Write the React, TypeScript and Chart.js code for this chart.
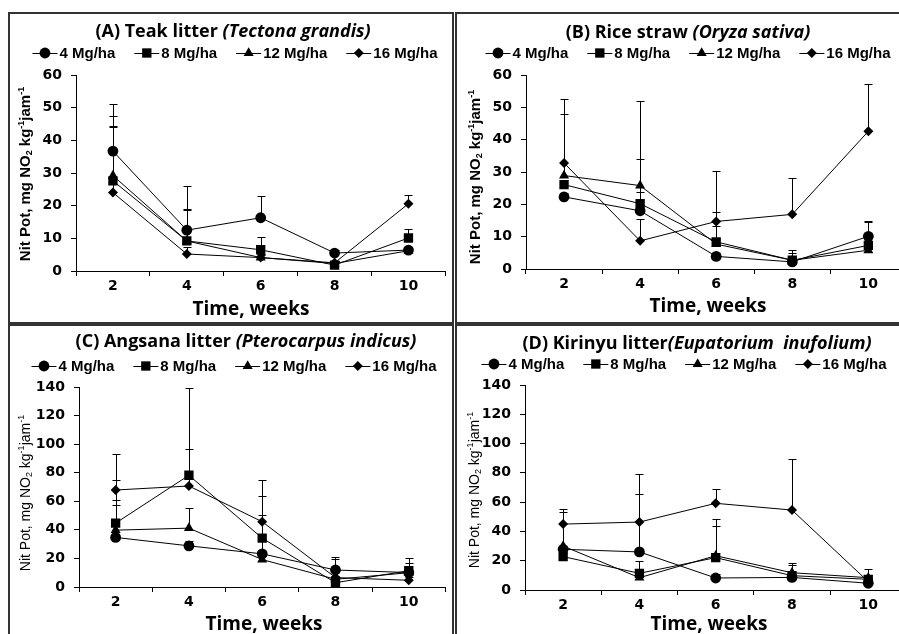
import React, { useEffect, useRef } from 'react';
import { Chart, registerables } from 'chart.js';
Chart.register(...registerables);

// ---------- data ----------
const WEEKS = ['2', '4', '6', '8', '10'];
const RATES = ['4 Mg/ha', '8 Mg/ha', '12 Mg/ha', '16 Mg/ha'];

// (A) Teak litter
const A_4 = [36.7, 12.5, 16.3, 5.5, 6.4];
const A_8 = [27.6, 9.2, 6.5, 1.8, 10.1];
const A_12 = [29.2, 9.2, 4.1, 2.3, 6.2];
const A_16 = [24.0, 5.2, 4.1, 2.5, 20.6];
const A_4_UP = [51.0, 26.0, 23.0, 6.5, 7.0];
const A_8_UP = [44.5, 19.0, 10.4, 3.0, 12.8];
const A_12_UP = [47.5, 18.6, 5.2, 3.0, 7.0];
const A_16_UP = [44.0, 7.3, 5.0, 3.0, 23.2];

// (B) Rice straw
const B_4 = [22.3, 18.0, 3.9, 2.2, 10.1];
const B_8 = [26.1, 20.2, 8.4, 2.7, 7.3];
const B_12 = [28.9, 25.8, 7.7, 2.7, 5.8];
const B_16 = [32.8, 8.7, 14.7, 16.9, 42.6];
const B_4_UP = [23.5, 23.9, 5.0, 4.0, 15.0];
const B_8_UP = [27.5, 34.0, 17.6, 6.0, 14.6];
const B_12_UP = [48.0, 52.0, 13.2, 5.0, 7.0];
const B_16_UP = [52.7, 15.5, 30.4, 28.2, 57.3];

// (C) Angsana litter
const C_4 = [34.7, 28.8, 23.2, 11.9, 10.1];
const C_8 = [44.7, 78.2, 34.2, 3.0, 11.4];
const C_12 = [39.8, 41.2, 19.2, 5.4, 10.0];
const C_16 = [67.9, 70.7, 45.7, 6.6, 4.7];
const C_4_UP = [57.6, 32.0, 50.6, 21.3, 17.0];
const C_8_UP = [74.9, 139.0, 63.7, 8.0, 20.4];
const C_12_UP = [60.9, 55.0, 22.0, 8.0, 12.0];
const C_16_UP = [93.4, 96.7, 75.2, 19.4, 7.0];

// (D) Kirinyu litter
const D_4 = [27.8, 26.0, 8.2, 8.6, 4.6];
const D_8 = [22.8, 11.4, 22.1, 9.8, 7.3];
const D_12 = [30.0, 8.4, 23.4, 11.8, 8.4];
const D_16 = [45.0, 46.4, 59.2, 54.6, 5.7];
const D_4_UP = [30.0, 65.6, 11.0, 10.0, 6.0];
const D_8_UP = [25.0, 20.0, 43.5, 17.0, 10.0];
const D_12_UP = [53.5, 10.0, 48.3, 18.2, 14.6];
const D_16_UP = [55.3, 79.4, 68.7, 89.2, 7.0];

// ---------- styling ----------
const MARKERS = ['circle', 'rect', 'triangle', 'rectRot'];
const RADII = [5.4, 6.6, 5.8, 5];

type Panel = {
  main: string;
  italic: string;
  series: number[][];
  ups: number[][];
  yMax: number;
  yStep: number;
  rect: [number, number, number, number];
  area: [number, number, number, number];
  titleXY: [number, number];
  legendXY: [number, number];
  xTitleXY: [number, number];
  yTitleXY: [number, number];
  yBold: boolean;
};

const PANELS: Panel[] = [
  {
    main: '(A) Teak litter ', italic: '(Tectona grandis)',
    series: [A_4, A_8, A_12, A_16], ups: [A_4_UP, A_8_UP, A_12_UP, A_16_UP],
    yMax: 60, yStep: 10,
    rect: [10, 14, 442, 308], area: [76, 75, 446, 271],
    titleXY: [233, 32], legendXY: [235, 53], xTitleXY: [251, 310], yTitleXY: [26, 174], yBold: true,
  },
  {
    main: '(B) Rice straw ', italic: '(Oryza sativa)',
    series: [B_4, B_8, B_12, B_16], ups: [B_4_UP, B_8_UP, B_12_UP, B_16_UP],
    yMax: 60, yStep: 10,
    rect: [457, 14, 456, 308], area: [526, 75, 908, 269],
    titleXY: [688, 33], legendXY: [688, 53], xTitleXY: [708, 307], yTitleXY: [476, 177], yBold: true,
  },
  {
    main: '(C) Angsana litter ', italic: '(Pterocarpus indicus)',
    series: [C_4, C_8, C_12, C_16], ups: [C_4_UP, C_8_UP, C_12_UP, C_16_UP],
    yMax: 140, yStep: 20,
    rect: [10, 326, 442, 310], area: [79, 387, 448.5, 587],
    titleXY: [246, 342], legendXY: [234, 366], xTitleXY: [264, 625], yTitleXY: [26, 493], yBold: false,
  },
  {
    main: '(D) Kirinyu litter', italic: '(Eupatorium  inufolium)',
    series: [D_4, D_8, D_12, D_16], ups: [D_4_UP, D_8_UP, D_12_UP, D_16_UP],
    yMax: 140, yStep: 20,
    rect: [457, 326, 456, 310], area: [525, 385, 909.5, 590],
    titleXY: [697, 344], legendXY: [684, 364], xTitleXY: [709, 625], yTitleXY: [475, 490], yBold: false,
  },
];

const BORDERS: [number, number, number, number][] = [
  [8, 12, 446, 312],
  [455, 12, 460, 312],
  [8, 324, 446, 320],
  [455, 324, 460, 320],
];

// ---------- helpers ----------
function marker(ctx: CanvasRenderingContext2D, style: string, x: number, y: number, r: number) {
  ctx.beginPath();
  if (style === 'circle') {
    ctx.arc(x, y, r, 0, Math.PI * 2);
  } else if (style === 'rect') {
    const s = Math.SQRT1_2 * r;
    ctx.rect(x - s, y - s, 2 * s, 2 * s);
  } else if (style === 'triangle') {
    let a = 0;
    ctx.moveTo(x + Math.sin(a) * r, y - Math.cos(a) * r);
    a += (2 * Math.PI) / 3;
    ctx.lineTo(x + Math.sin(a) * r, y - Math.cos(a) * r);
    a += (2 * Math.PI) / 3;
    ctx.lineTo(x + Math.sin(a) * r, y - Math.cos(a) * r);
    ctx.closePath();
  } else {
    ctx.moveTo(x - r, y);
    ctx.lineTo(x, y - r);
    ctx.lineTo(x + r, y);
    ctx.lineTo(x, y + r);
    ctx.closePath();
  }
  ctx.fillStyle = '#000';
  ctx.fill();
}

type Seg = { t: string; font: string; dy?: number };
function segWidth(ctx: CanvasRenderingContext2D, segs: Seg[]) {
  let w = 0;
  for (const s of segs) {
    ctx.font = s.font;
    w += ctx.measureText(s.t).width;
  }
  return w;
}
function drawSegs(ctx: CanvasRenderingContext2D, segs: Seg[], cx: number, cy: number) {
  let x = cx - segWidth(ctx, segs) / 2;
  ctx.textAlign = 'left';
  ctx.textBaseline = 'middle';
  ctx.fillStyle = '#000';
  for (const s of segs) {
    ctx.font = s.font;
    ctx.fillText(s.t, x, cy + (s.dy || 0));
    x += ctx.measureText(s.t).width;
  }
}

const TITLE_FONT = 'bold 18px "Open Sans"';
const TITLE_IT_FONT = 'italic bold 18px "Open Sans"';
const LEGEND_FONT = 'bold 15px "Liberation Sans"';
const TICK_FONT = { family: 'DejaVu Sans', weight: 'bold' as const, size: 14 };
const XTITLE_FONT = 'bold 19px "Open Sans"';

function makePlugins(p: Panel) {
  const ox = p.rect[0];
  const oy = p.rect[1];
  const errorBars = {
    id: 'errorBars',
    beforeDatasetsDraw(chart: any) {
      const ctx = chart.ctx as CanvasRenderingContext2D;
      const xs = chart.scales.x;
      const ys = chart.scales.y;
      ctx.save();
      ctx.strokeStyle = '#000';
      ctx.lineWidth = 1;
      p.ups.forEach((ups, i) => {
        ups.forEach((u, j) => {
          const x = Math.round(xs.getPixelForValue(j)) + 0.5;
          const y0 = ys.getPixelForValue(p.series[i][j]);
          const y1 = Math.round(ys.getPixelForValue(u)) + 0.5;
          ctx.beginPath();
          ctx.moveTo(x, y0);
          ctx.lineTo(x, y1);
          ctx.moveTo(x - 4, y1);
          ctx.lineTo(x + 4, y1);
          ctx.stroke();
        });
      });
      ctx.restore();
    },
  };
  const decor = {
    id: 'decor',
    afterDraw(chart: any) {
      const ctx = chart.ctx as CanvasRenderingContext2D;
      ctx.save();
      // title
      drawSegs(ctx, [
        { t: p.main, font: TITLE_FONT },
        { t: p.italic, font: TITLE_IT_FONT },
      ], p.titleXY[0] - ox, p.titleXY[1] - oy);
      // legend
      ctx.font = LEGEND_FONT;
      const lineW = 25;
      const gapT = 2;
      const gapI = 19;
      let total = 0;
      RATES.forEach((r, i) => {
        total += lineW + gapT + ctx.measureText(r).width + (i < RATES.length - 1 ? gapI : 0);
      });
      let x = p.legendXY[0] - ox - total / 2;
      const ly = p.legendXY[1] - oy;
      RATES.forEach((r, i) => {
        ctx.strokeStyle = '#000';
        ctx.lineWidth = 1;
        ctx.beginPath();
        ctx.moveTo(x, Math.round(ly) + 0.5);
        ctx.lineTo(x + lineW, Math.round(ly) + 0.5);
        ctx.stroke();
        marker(ctx, MARKERS[i], x + lineW / 2, ly, RADII[i]);
        ctx.font = LEGEND_FONT;
        ctx.fillStyle = '#000';
        ctx.textAlign = 'left';
        ctx.textBaseline = 'middle';
        ctx.fillText(r, x + lineW + gapT, ly + 1);
        x += lineW + gapT + ctx.measureText(r).width + gapI;
      });
      // x title
      drawSegs(ctx, [{ t: 'Time, weeks', font: XTITLE_FONT }], p.xTitleXY[0] - ox, p.xTitleXY[1] - oy);
      // y title
      const fam = p.yBold ? '"Liberation Sans"' : '"Liberation Sans Narrow", "Liberation Sans"';
      const w = p.yBold ? 'bold ' : '';
      const big = `${w}${p.yBold ? 15 : 14}px ${fam}`;
      const small = `${w}9px ${fam}`;
      ctx.save();
      ctx.translate(p.yTitleXY[0] - ox, p.yTitleXY[1] - oy);
      ctx.rotate(-Math.PI / 2);
      drawSegs(ctx, [
        { t: 'Nit Pot, mg NO', font: big },
        { t: '2', font: small, dy: 4 },
        { t: ' kg', font: big },
        { t: '-1', font: small, dy: -4 },
        { t: 'jam', font: big },
        { t: '-1', font: small, dy: -4 },
      ], 0, 0);
      ctx.restore();
      ctx.restore();
    },
  };
  return [errorBars, decor];
}

function PanelChart({ p }: { p: Panel }) {
  const ref = useRef<HTMLCanvasElement>(null);
  useEffect(() => {
    if (!ref.current) return;
    const [rx, ry, rw, rh] = p.rect;
    const [al, at, ar, ab] = p.area;
    const chart = new Chart(ref.current, {
      type: 'line',
      data: {
        labels: WEEKS,
        datasets: RATES.map((r, i) => ({
          label: r,
          data: p.series[i],
          borderColor: '#000',
          borderWidth: 1,
          pointStyle: MARKERS[i] as any,
          pointRadius: RADII[i],
          pointBackgroundColor: '#000',
          pointBorderColor: '#000',
          pointBorderWidth: 0,
          fill: false,
          tension: 0,
        })),
      },
      options: {
        responsive: false,
        animation: false,
        events: [],
        layout: { padding: { left: 0, top: at - ry, right: rx + rw - ar, bottom: 0 } },
        plugins: { legend: { display: false }, title: { display: false }, tooltip: { enabled: false } },
        scales: {
          x: {
            type: 'category',
            offset: true,
            grid: { offset: true, drawOnChartArea: false, drawTicks: true, tickLength: 5, color: '#000', tickColor: '#000' },
            border: { color: '#000', width: 1 },
            ticks: { color: '#000', font: TICK_FONT, padding: 2, maxRotation: 0, autoSkip: false },
            afterFit: (s: any) => { s.height = ry + rh - ab; },
          },
          y: {
            min: 0,
            max: p.yMax,
            grid: { drawOnChartArea: false, drawTicks: true, tickLength: 5, color: '#000', tickColor: '#000' },
            border: { color: '#000', width: 1 },
            ticks: { color: '#000', font: TICK_FONT, padding: 9, stepSize: p.yStep },
            afterFit: (s: any) => { s.width = al - rx; },
          },
        },
      },
      plugins: makePlugins(p),
    } as any);
    return () => chart.destroy();
  }, [p]);
  const [rx, ry, rw, rh] = p.rect;
  return (
    <canvas
      ref={ref}
      width={rw}
      height={rh}
      style={{ position: 'absolute', left: rx, top: ry, width: rw, height: rh }}
    />
  );
}

export default function App() {
  return (
    <div style={{ position: 'fixed', left: 0, top: 0, width: 899, height: 634, overflow: 'hidden', background: '#fff' }}>
      {PANELS.map((p, i) => (
        <PanelChart key={i} p={p} />
      ))}
      {BORDERS.map((b, i) => (
        <div
          key={'b' + i}
          style={{
            position: 'absolute', left: b[0], top: b[1], width: b[2], height: b[3],
            boxSizing: 'border-box', border: '2px solid #333', pointerEvents: 'none',
          }}
        />
      ))}
    </div>
  );
}
